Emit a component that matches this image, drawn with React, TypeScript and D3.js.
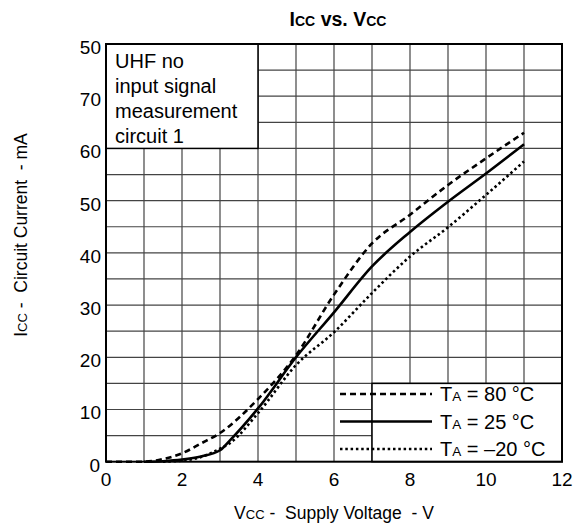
import React from "react";
import * as d3 from "d3";

// Supply voltage (V) / circuit current (mA)
const V_80 = [0, 1, 1.5, 2, 2.5, 3, 4, 5, 6, 7, 8, 9, 10, 11];
const I_80 = [0, 0, 0.5, 1.6, 3.5, 5.5, 12, 20.4, 32, 41.8, 47.3, 53, 58.1, 63];
const V_25 = [1, 1.5, 2, 2.5, 3, 3.25, 4, 5, 6, 7, 8, 9, 10, 11];
const I_25 = [0, 0.1, 0.4, 1.0, 2.2, 4.0, 10.2, 20, 28.6, 37.4, 44, 49.8, 55.2, 60.8];
const V_M20 = [1.5, 2, 2.5, 3, 3.25, 4, 5, 6, 7, 8, 9, 10, 11];
const I_M20 = [0, 0.2, 0.9, 2.5, 3.5, 9.3, 18.5, 24.8, 32.3, 39.3, 44.9, 51.1, 57.5];

const X_TICKS = [0, 2, 4, 6, 8, 10, 12];
const Y_TICKS = [0, 10, 20, 30, 40, 50, 60, 70, 80];
// the datasheet labels the top line "50"
const Y_LABELS = ["0", "10", "20", "30", "40", "50", "60", "70", "50"];
const NOTE = ["UHF no", "input signal", "measurement", "circuit 1"];

const SERIES = [
  { temp: "80 °C", v: V_80, i: I_80, dash: "6,4" },
  { temp: "25 °C", v: V_25, i: I_25, dash: null },
  { temp: "–20 °C", v: V_M20, i: I_M20, dash: "2.5,2.8" },
];

const FONT = "'Liberation Sans', Arial, Helvetica, sans-serif";

export default function App() {
  const W = 584, H = 527;
  const x = d3.scaleLinear().domain([0, 12]).range([106, 562]);
  const y = d3.scaleLinear().domain([0, 80]).range([461.7, 44]);

  const line = d3
    .line<[number, number]>()
    .x(d => x(d[0]))
    .y(d => y(d[1]))
    .curve(d3.curveMonotoneX);

  const vLines = d3.range(1, 12);
  const hLines = d3.range(5, 80, 5);

  return (
    <svg
      width={W}
      height={H}
      style={{ position: "absolute", left: 0, top: 0, background: "#fff" }}
      fontFamily={FONT}
    >
      {/* title */}
      <text x={338} y={26} textAnchor="middle" fontSize={19.5} fontWeight="bold">
        I<tspan fontSize={14}>CC</tspan> vs. V<tspan fontSize={14}>CC</tspan>
      </text>

      {/* grid */}
      {vLines.map(v => (
        <line key={"v" + v} x1={x(v)} x2={x(v)} y1={y(0)} y2={y(80)} stroke="#444" strokeWidth={1.2} />
      ))}
      {hLines.map(h => (
        <line key={"h" + h} x1={x(0)} x2={x(12)} y1={y(h)} y2={y(h)} stroke="#444" strokeWidth={1.2} />
      ))}

      {/* note box */}
      <rect x={x(0)} y={y(80)} width={x(4) - x(0)} height={y(60) - y(80)} fill="#fff" stroke="#000" strokeWidth={1.5} />
      {NOTE.map((t, k) => (
        <text key={t} x={x(0) + 9} y={68 + k * 25} fontSize={20}>
          {t}
        </text>
      ))}

      {/* curves */}
      {SERIES.map(s => (
        <path
          key={s.temp}
          d={line(s.v.map((v, k) => [v, s.i[k]] as [number, number])) || ""}
          fill="none"
          stroke="#000"
          strokeWidth={2.6}
          strokeDasharray={s.dash || undefined}
        />
      ))}

      {/* legend */}
      <rect x={x(7)} y={y(15)} width={x(12) - x(7)} height={y(0) - y(15)} fill="#fff" stroke="#000" strokeWidth={1.5} />
      {SERIES.map((s, k) => {
        const yy = 394 + k * 27.5;
        return (
          <g key={"lg" + s.temp}>
            <line x1={340} x2={432} y1={yy} y2={yy} stroke="#000" strokeWidth={2.6} strokeDasharray={s.dash || undefined} />
            <text x={440} y={yy + 7} fontSize={20}>
              T<tspan fontSize={13.5}>A</tspan> = {s.temp}
            </text>
          </g>
        );
      })}

      {/* frame */}
      <rect x={x(0)} y={y(80)} width={x(12) - x(0)} height={y(0) - y(80)} fill="none" stroke="#000" strokeWidth={2} />

      {/* y tick labels */}
      {Y_TICKS.map((t, k) => (
        <text key={"yt" + t} x={t === 0 ? 100 : 101} y={y(t) + 10} textAnchor="end" fontSize={19}>
          {Y_LABELS[k]}
        </text>
      ))}
      {/* x tick labels */}
      {X_TICKS.map(t => (
        <text key={"xt" + t} x={x(t)} y={486} textAnchor="middle" fontSize={19}>
          {t}
        </text>
      ))}

      {/* axis titles */}
      <text x={334} y={519} textAnchor="middle" fontSize={17.5}>
        V<tspan fontSize={13}>CC</tspan> -{"\u00a0 "}Supply Voltage{"\u00a0 "}- V
      </text>
      <text transform="translate(27,235) rotate(-90)" textAnchor="middle" fontSize={17.5}>
        I<tspan fontSize={13}>CC</tspan> -{"\u00a0 "}Circuit Current{"\u00a0 "}- mA
      </text>
    </svg>
  );
}
